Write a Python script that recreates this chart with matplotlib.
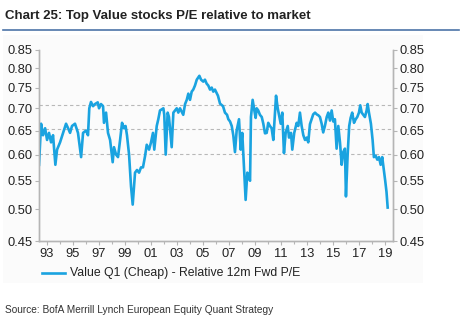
import matplotlib
matplotlib.use('Agg')
import matplotlib.pyplot as plt
from matplotlib.ticker import FixedLocator, FixedFormatter, NullLocator, NullFormatter
from matplotlib.patches import Rectangle
from matplotlib.lines import Line2D

plt.rcParams['font.family'] = ['Liberation Sans', 'DejaVu Sans']

# Value Q1 (cheap) quintile, 12m forward P/E relative to market (decimal years)
years = [
    1992.38, 1992.54, 1992.69, 1992.85, 1993.00, 1993.15, 1993.31, 1993.46, 1993.64, 1993.77,
    1994.00, 1994.23, 1994.46, 1994.62, 1994.77, 1994.92, 1995.15, 1995.38, 1995.62, 1995.77,
    1996.00, 1996.15, 1996.25, 1996.38, 1996.54, 1996.69, 1996.90, 1997.00, 1997.15, 1997.31,
    1997.38, 1997.54, 1997.69, 1997.85, 1998.05, 1998.15, 1998.31, 1998.46, 1998.62, 1998.77,
    1998.92, 1999.04, 1999.15, 1999.31, 1999.46, 1999.59, 1999.77, 1999.92, 2000.08, 2000.23,
    2000.38, 2000.54, 2000.67, 2000.85, 2001.00, 2001.15, 2001.25, 2001.44, 2001.56, 2001.69,
    2001.95, 2002.02, 2002.13, 2002.28, 2002.38, 2002.59, 2002.72, 2002.85, 2002.98, 2003.10,
    2003.23, 2003.48, 2003.62, 2003.75, 2003.87, 2004.00, 2004.13, 2004.25, 2004.38, 2004.52,
    2004.72, 2004.85, 2005.02, 2005.15, 2005.28, 2005.41, 2005.54, 2005.67, 2005.79, 2005.92,
    2006.15, 2006.31, 2006.54, 2006.69, 2006.85, 2006.95, 2007.08, 2007.21, 2007.33, 2007.46,
    2007.59, 2007.77, 2007.90, 2008.02, 2008.15, 2008.28, 2008.41, 2008.54, 2008.62, 2008.69,
    2008.82, 2008.95, 2009.05, 2009.13, 2009.25, 2009.38, 2009.52, 2009.64, 2009.77, 2009.90,
    2010.02, 2010.15, 2010.28, 2010.41, 2010.54, 2010.62, 2010.75, 2010.85, 2010.98, 2011.10,
    2011.23, 2011.36, 2011.52, 2011.62, 2011.77, 2011.87, 2012.02, 2012.21, 2012.33, 2012.46,
    2012.59, 2012.72, 2012.85, 2012.98, 2013.10, 2013.23, 2013.36, 2013.48, 2013.62, 2013.75,
    2013.87, 2014.00, 2014.13, 2014.25, 2014.38, 2014.52, 2014.64, 2014.77, 2014.90, 2015.02,
    2015.15, 2015.28, 2015.41, 2015.54, 2015.67, 2015.79, 2015.92, 2016.00, 2016.13, 2016.25,
    2016.36, 2016.48, 2016.62, 2016.75, 2016.87, 2017.00, 2017.10, 2017.21, 2017.33, 2017.46,
    2017.59, 2017.67, 2017.77, 2017.92, 2018.05, 2018.15, 2018.28, 2018.41, 2018.54, 2018.67,
    2018.79, 2018.92, 2019.02, 2019.12, 2019.21,
]
rel_pe = [
    0.580, 0.665, 0.640, 0.655, 0.630, 0.645, 0.625, 0.640, 0.580, 0.610,
    0.625, 0.645, 0.665, 0.655, 0.645, 0.660, 0.665, 0.645, 0.595, 0.645,
    0.650, 0.640, 0.700, 0.715, 0.705, 0.710, 0.714, 0.700, 0.710, 0.705,
    0.667, 0.690, 0.645, 0.630, 0.585, 0.615, 0.600, 0.595, 0.630, 0.667,
    0.655, 0.660, 0.640, 0.600, 0.540, 0.508, 0.565, 0.570, 0.565, 0.575,
    0.575, 0.597, 0.620, 0.610, 0.625, 0.645, 0.610, 0.660, 0.675, 0.695,
    0.700, 0.685, 0.600, 0.690, 0.680, 0.615, 0.690, 0.695, 0.700, 0.690,
    0.700, 0.685, 0.710, 0.720, 0.735, 0.720, 0.740, 0.745, 0.755, 0.770,
    0.780, 0.770, 0.765, 0.770, 0.760, 0.755, 0.745, 0.750, 0.740, 0.745,
    0.730, 0.711, 0.705, 0.690, 0.685, 0.675, 0.670, 0.660, 0.640, 0.605,
    0.650, 0.675, 0.610, 0.645, 0.575, 0.516, 0.565, 0.555, 0.550, 0.680,
    0.720, 0.695, 0.678, 0.700, 0.695, 0.685, 0.680, 0.665, 0.644, 0.645,
    0.667, 0.660, 0.655, 0.630, 0.690, 0.730, 0.700, 0.685, 0.665, 0.690,
    0.603, 0.645, 0.660, 0.635, 0.645, 0.610, 0.645, 0.667, 0.660, 0.690,
    0.660, 0.640, 0.630, 0.635, 0.625, 0.664, 0.675, 0.686, 0.690, 0.686,
    0.684, 0.680, 0.665, 0.646, 0.660, 0.680, 0.690, 0.672, 0.695, 0.670,
    0.675, 0.612, 0.660, 0.625, 0.580, 0.605, 0.612, 0.522, 0.600, 0.660,
    0.678, 0.690, 0.667, 0.675, 0.680, 0.690, 0.707, 0.690, 0.685, 0.680,
    0.695, 0.710, 0.690, 0.665, 0.630, 0.595, 0.598, 0.590, 0.595, 0.580,
    0.595, 0.570, 0.550, 0.530, 0.503,
]

# average and +/- 1 std dev reference levels
avg_level = 0.654
upper_level = 0.708
lower_level = 0.601

y_ticks = [0.45, 0.50, 0.55, 0.60, 0.65, 0.70, 0.75, 0.80, 0.85]
y_labels = ['0.45', '0.50', '0.55', '0.60', '0.65', '0.70', '0.75', '0.80', '0.85']
x_ticks = list(range(1993, 2020, 2))
x_labels = ['93', '95', '97', '99', '01', '03', '05', '07', '09', '11', '13', '15', '17', '19']

line_color = '#1aa3e0'
axis_color = '#b5b5b5'
text_color = '#222222'

fig = plt.figure(figsize=(4.62, 3.24), dpi=100)
fig.patch.set_facecolor('white')

# faint chart panel behind plot and legend
fig.patches.append(Rectangle((3 / 462, 1 - 283 / 324), 420 / 462, 248 / 324,
                             transform=fig.transFigure, facecolor='#fbfbfb',
                             edgecolor='none', zorder=-5))

ax = fig.add_axes([39 / 462, 1 - 241 / 324, 354 / 462, 191 / 324])
ax.set_facecolor('none')
ax.set_zorder(2)

for lvl in (upper_level, avg_level, lower_level):
    ax.axhline(lvl, color='#b8b8b8', lw=0.8, ls=(0, (3, 2.5)), zorder=1)

ax.plot(years, rel_pe, color=line_color, lw=1.9, solid_joinstyle='round', zorder=3)

ax.set_yscale('log')
ax.set_ylim(0.45, 0.85)
ax.set_xlim(1992.38, 2019.62)
ax.yaxis.set_major_locator(FixedLocator(y_ticks))
ax.yaxis.set_major_formatter(FixedFormatter(y_labels))
ax.yaxis.set_minor_locator(NullLocator())
ax.yaxis.set_minor_formatter(NullFormatter())

ax2 = ax.twinx()
ax2.set_yscale('log')
ax2.set_ylim(0.45, 0.85)
ax2.yaxis.set_major_locator(FixedLocator(y_ticks))
ax2.yaxis.set_major_formatter(FixedFormatter(y_labels))
ax2.yaxis.set_minor_locator(NullLocator())
ax2.yaxis.set_minor_formatter(NullFormatter())

ax.set_xticks(x_ticks)
ax.set_xticklabels(x_labels)
ax.set_xticks(list(range(1993, 2020)), minor=True)

for a in (ax, ax2):
    a.spines['top'].set_visible(False)
    for s in ('left', 'right', 'bottom'):
        a.spines[s].set_color(axis_color)
        a.spines[s].set_linewidth(1.0)
    a.tick_params(axis='both', which='both', colors=axis_color, labelcolor=text_color,
                  labelsize=9.3, length=3, width=0.8, direction='out', pad=1.5)
ax.tick_params(axis='x', which='minor', length=2)
ax.tick_params(axis='x', pad=2)

# title with rule underneath
fig.text(5 / 462, 1 - 16 / 324, 'Chart 25: Top Value stocks P/E relative to market',
         fontsize=9.5, fontweight='bold', color=text_color, va='center', ha='left')
fig.add_artist(Line2D([3 / 462, 459 / 462], [1 - 30 / 324, 1 - 30 / 324],
                      transform=fig.transFigure, color='#4d74a8', lw=1.2))

# legend
fig.add_artist(Line2D([42 / 462, 65 / 462], [1 - 273 / 324, 1 - 273 / 324],
                      transform=fig.transFigure, color=line_color, lw=1.9))
fig.text(70 / 462, 1 - 273 / 324, 'Value Q1 (Cheap) - Relative 12m Fwd P/E',
         fontsize=8.8, color=text_color, va='center', ha='left')

fig.text(5 / 462, 1 - 310 / 324, 'Source: BofA Merrill Lynch European Equity Quant Strategy',
         fontsize=7.3, color='#333333', va='center', ha='left')

fig.savefig('out.png', dpi=100, facecolor='white')
